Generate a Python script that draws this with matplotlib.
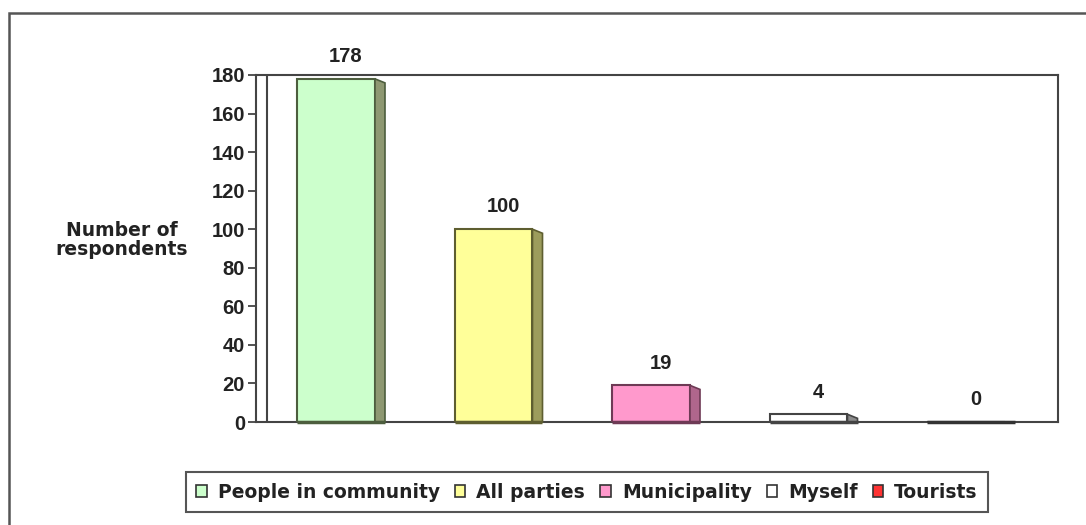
import matplotlib.pyplot as plt
from matplotlib.patches import Polygon, Rectangle
from matplotlib import rcParams

rcParams['font.family'] = ['Liberation Sans', 'DejaVu Sans']
rcParams['font.weight'] = 'bold'
rcParams['font.size'] = 14

# data
categories = ['People in community', 'All parties', 'Municipality', 'Myself', 'Tourists']
respondents = [178, 100, 19, 4, 0]
yticks = [0, 20, 40, 60, 80, 100, 120, 140, 160, 180]

face_cols = ['#ccffcc', '#ffff99', '#ff99cc', '#ffffff', '#ff3333']
side_cols = ['#8e9872', '#9c9c5c', '#b0668c', '#8c8c8c', '#444444']
edge_cols = ['#4d5e3e', '#5e5e30', '#6e3a55', '#444444', '#333333']

word_font = {'family': 'DejaVu Sans', 'weight': 'bold', 'size': 13.5}

W, H = 1086, 525
fig = plt.figure(figsize=(W / 100, H / 100), dpi=100)

# outer chart border (right and bottom run off the picture)
fig.patches.append(Rectangle((9 / W, -0.2), 1.2, 0.2 + (H - 13) / H,
                             transform=fig.transFigure, fill=False,
                             edgecolor='#555555', linewidth=1.8))

ax = fig.add_axes([256 / W, (H - 422) / H, (1058 - 256) / W, (422 - 75) / H])
x = list(range(len(categories)))
width = 0.495
depth = 0.0635
drop = 2.1

ax.set_xlim(-0.508, 4.584)
ax.set_ylim(0, 180)

for xi, v, fc, sc, ec in zip(x, respondents, face_cols, side_cols, edge_cols):
    ax.bar(xi, v, width=width, color=fc, edgecolor=ec, linewidth=1.5, zorder=3)
    xr = xi + width / 2
    top = max(v - drop, 0)
    side = Polygon([(xr, 0), (xr, v), (xr + depth, top), (xr + depth, 0)],
                   closed=True, facecolor=sc, edgecolor=ec, linewidth=1.2,
                   zorder=3, clip_on=False)
    ax.add_patch(side)
    ax.plot([xi - width / 2, xr + depth], [0, 0], color=ec, linewidth=2.5,
            zorder=4, clip_on=False, solid_capstyle='butt')
    ax.annotate(str(v), (xi + depth, v), xytext=(0, 16), textcoords='offset points',
                ha='center', va='center', fontsize=14.5, fontweight='bold', color='#222222')

# back wall edge
ax.axvline(-0.508 + 11 / 802 * (4.584 + 0.508), color='#444444', linewidth=1.5, zorder=2)

for s in ax.spines.values():
    s.set_color('#444444')
    s.set_linewidth(1.5)

ax.set_xticks([])
ax.set_yticks(yticks)
ax.tick_params(axis='y', direction='out', length=6, width=1.3, color='#444444',
               labelsize=14.5, labelcolor='#222222', pad=2)

fig.text(122 / W, (H - 240) / H, 'Number of\nrespondents', ha='center', va='center',
         color='#222222', linespacing=1.05, fontdict=word_font)

handles = [Rectangle((0, 0), 1, 1, facecolor=fc, edgecolor='#333333', linewidth=1.2)
           for fc in face_cols]
leg = fig.legend(handles, categories, loc='center', bbox_to_anchor=(587 / W, (H - 492) / H),
                 ncol=5, frameon=True, fancybox=False, framealpha=1,
                 handlelength=0.55, handleheight=0.55, handletextpad=0.6,
                 columnspacing=0.8, borderpad=0.55, borderaxespad=0,
                 prop=word_font)
leg.get_frame().set_edgecolor('#555555')
leg.get_frame().set_linewidth(1.5)
for t in leg.get_texts():
    t.set_color('#222222')

fig.savefig('out.png', dpi=100)
